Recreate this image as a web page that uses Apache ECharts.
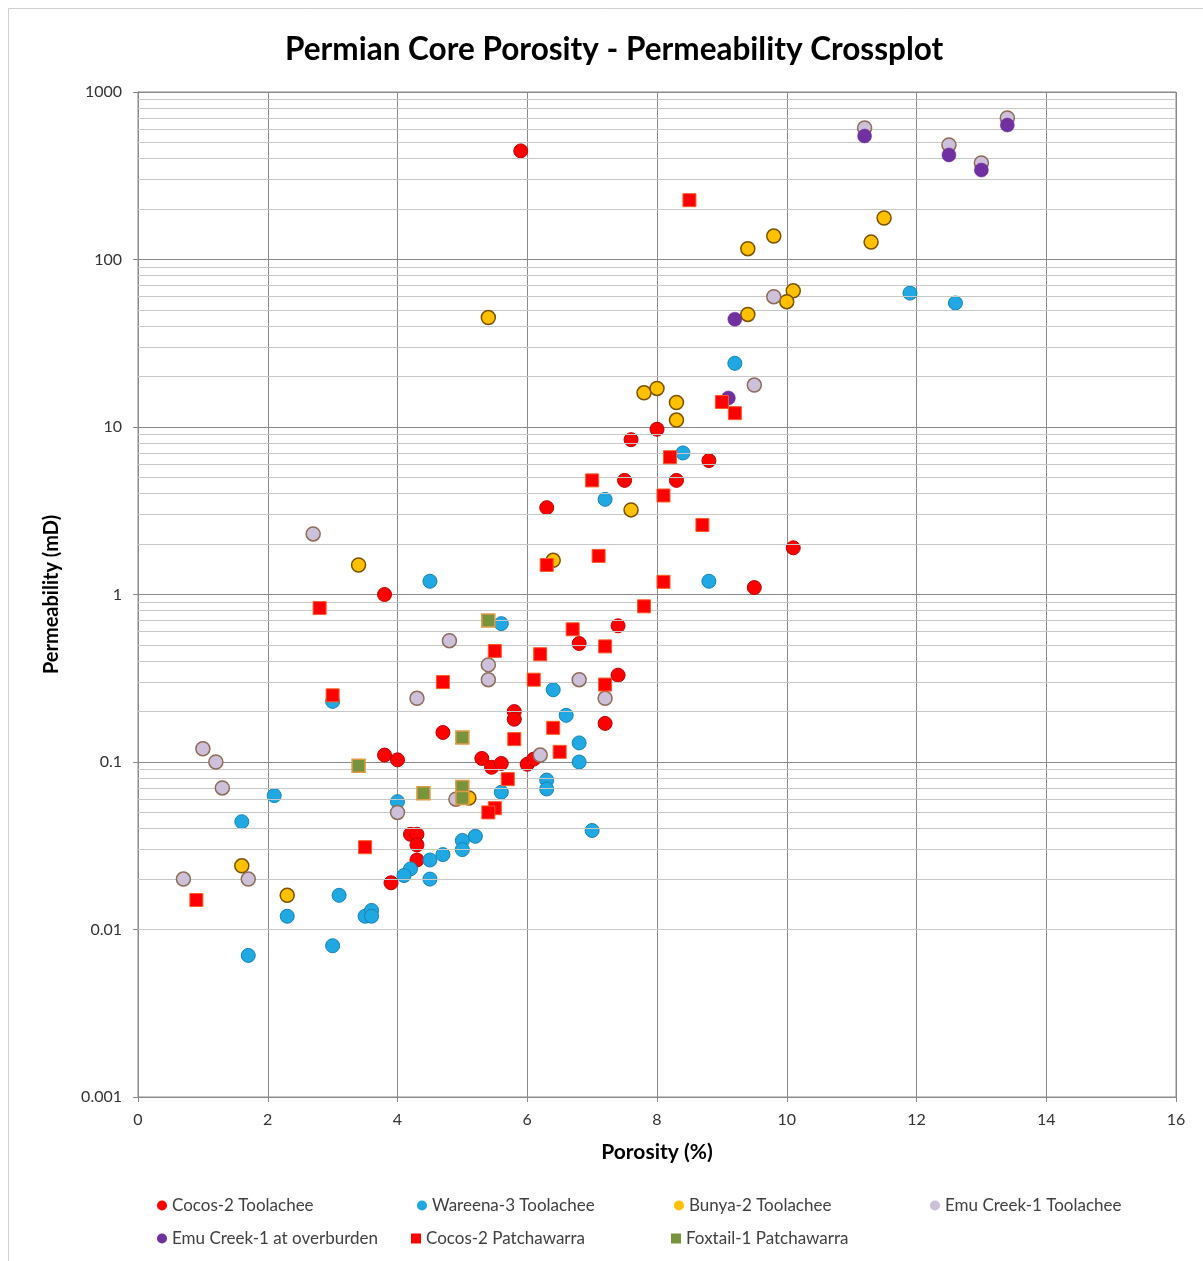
<!DOCTYPE html>
<html>
<head>
<meta charset="utf-8">
<script src="https://cdn.jsdelivr.net/npm/echarts@6/dist/echarts.min.js"></script>
<style>
html,body{margin:0;padding:0;background:#fff;}
#chart{width:1203px;height:1261px;}
</style>
</head>
<body>
<div id="chart"></div>
<script>
// ---- data (porosity %, permeability mD) ----
const cocos2Toolachee = [
  [5.9,445],[3.8,1.0],[6.3,3.3],[7.6,8.4],[8.0,9.7],[7.5,4.8],[8.3,4.8],[8.8,6.3],[10.1,1.9],[9.5,1.1],
  [7.4,0.65],[6.8,0.51],[7.4,0.33],[7.2,0.17],[5.8,0.2],[5.8,0.18],[4.7,0.15],[3.8,0.11],[4.0,0.103],
  [5.3,0.105],[5.45,0.093],[5.6,0.098],[6.0,0.097],[6.1,0.104],[4.2,0.037],[4.3,0.037],[4.3,0.032],
  [4.3,0.026],[3.9,0.019]
];
const wareena3Toolachee = [
  [11.9,63],[12.6,55],[9.2,24],[8.4,7.0],[7.2,3.7],[8.8,1.2],[4.5,1.2],[5.6,0.67],[6.4,0.27],[6.6,0.19],
  [6.8,0.13],[6.8,0.1],[6.3,0.078],[6.3,0.069],[5.6,0.066],[7.0,0.039],[3.0,0.23],[2.1,0.063],[1.6,0.044],
  [4.0,0.058],[5.2,0.036],[5.0,0.034],[5.0,0.030],[4.7,0.028],[4.5,0.026],[4.2,0.023],[4.1,0.021],
  [4.5,0.020],[3.1,0.016],[2.3,0.012],[3.5,0.012],[3.6,0.013],[3.6,0.012],[3.0,0.008],[1.7,0.007]
];
const bunya2Toolachee = [
  [11.5,177],[11.3,127],[9.4,116],[9.8,138],[10.1,65],[10.0,56],[9.4,47],[5.4,45],[7.8,16],[8.0,17],
  [8.3,14],[8.3,11],[7.6,3.2],[6.4,1.6],[3.4,1.5],[1.6,0.024],[2.3,0.016],[5.1,0.061]
];
const emuCreekToolachee = [
  [11.2,610],[12.5,483],[13.0,377],[13.4,700],[9.8,60],[9.5,17.8],[2.7,2.3],[4.8,0.53],[5.4,0.38],
  [5.4,0.31],[4.3,0.24],[6.8,0.31],[7.2,0.24],[6.2,0.11],[1.0,0.12],[1.2,0.1],[1.3,0.07],[0.7,0.02],
  [1.7,0.02],[4.0,0.05],[4.9,0.06]
];
const emuCreekOverburden = [
  [11.2,546],[12.5,421],[13.0,342],[13.4,635],[9.2,44],[9.1,14.9]
];
const cocos2Patchawarra = [
  [8.5,226],[9.0,14.1],[9.2,12.1],[8.2,6.6],[7.0,4.8],[8.1,3.9],[8.7,2.6],[7.1,1.7],[6.3,1.5],[8.1,1.19],
  [7.8,0.85],[2.8,0.83],[6.7,0.62],[7.2,0.49],[6.2,0.44],[5.5,0.46],[4.7,0.30],[6.1,0.31],[7.2,0.29],
  [3.0,0.25],[6.4,0.16],[5.8,0.137],[6.5,0.115],[5.7,0.079],[5.5,0.053],[5.4,0.05],[3.5,0.031],[0.9,0.015]
];
const foxtail1Patchawarra = [
  [5.4,0.70],[5.0,0.14],[3.4,0.095],[4.4,0.065],[5.0,0.071],[5.0,0.061]
];
const seriesNames = [
  'Cocos-2 Toolachee','Wareena-3 Toolachee','Bunya-2 Toolachee','Emu Creek-1 Toolachee',
  'Emu Creek-1 at overburden','Cocos-2 Patchawarra','Foxtail-1 Patchawarra'
];
const xTicks = [0,2,4,6,8,10,12,14,16];
const yDecades = [0.001,0.01,0.1,1,10,100,1000];
const minorMultipliers = [2,3,4,5,6,7,8,9];

// ---- build ----
const minorLines = [];
yDecades.slice(0,-1).forEach(d => minorMultipliers.forEach(m => minorLines.push({yAxis: +(d*m).toPrecision(6)})));

const styles = [
  {symbol:'circle', size:14, color:'#FF0000', border:'#C00000', bw:1},
  {symbol:'circle', size:14, color:'#1FA8E2', border:'#1784B5', bw:1},
  {symbol:'circle', size:14, color:'#FFC000', border:'#7A5200', bw:1.5},
  {symbol:'circle', size:14, color:'#CCC0DA', border:'#8E6C58', bw:1.5},
  {symbol:'circle', size:14, color:'#7030A0', border:'#6A2D98', bw:0.5},
  {symbol:'rect',   size:13, color:'#FF0000', border:'#FF5A1F', bw:1},
  {symbol:'rect',   size:13, color:'#77933C', border:'#E39A46', bw:1.5}
];
const datasets = [cocos2Toolachee, wareena3Toolachee, bunya2Toolachee, emuCreekToolachee,
                  emuCreekOverburden, cocos2Patchawarra, foxtail1Patchawarra];

const series = [{
  type:'scatter', name:'_minor', data:[], silent:true, animation:false, z:1,
  markLine:{silent:true, animation:false, symbol:['none','none'], label:{show:false},
    lineStyle:{color:'#c8c8c8', width:1, type:'solid'}, emphasis:{disabled:true}, data:minorLines}
}];
datasets.forEach((d,i) => {
  const s = styles[i];
  series.push({
    type:'scatter', name:seriesNames[i], data:d, symbol:s.symbol, symbolSize:s.size, z:3+i,
    itemStyle:{color:s.color, borderColor:s.border, borderWidth:s.bw, opacity:1},
    animation:false
  });
});

const legendPos = [[157,1197],[417,1197],[674,1197],[930,1197],[157,1230],[411,1230],[671,1230]];
const legends = seriesNames.map((n,i) => ({
  data:[{name:n, icon: styles[i].symbol === 'rect' ? 'rect' : 'circle'}],
  left:legendPos[i][0], top:legendPos[i][1], padding:0, itemWidth:10, itemHeight:10, itemGap:5,
  selectedMode:false,
  itemStyle:{borderWidth:0},
  textStyle:{fontFamily:'Lato', fontSize:17, color:'#404040'}
}));

const fmt = v => String(Number(Number(v).toPrecision(6)));

const option = {
  backgroundColor:'#ffffff',
  animation:false,
  title:{text:'Permian Core Porosity - Permeability Crossplot', left:280, top:29,
    textStyle:{fontFamily:'Lato', fontWeight:'bold', fontSize:31.5, color:'#000'}},
  legend:legends,
  grid:{left:138, right:27, top:92, bottom:164, show:true, borderColor:'#8a8a8a', borderWidth:1},
  xAxis:{type:'value', min:xTicks[0], max:xTicks[xTicks.length-1], interval:2,
    name:'Porosity (%)', nameLocation:'middle', nameGap:45,
    nameTextStyle:{fontFamily:'Lato', fontWeight:'bold', fontSize:21, color:'#000'},
    axisLine:{show:true, lineStyle:{color:'#8a8a8a'}},
    axisTick:{show:true, length:5, lineStyle:{color:'#8a8a8a'}},
    axisLabel:{margin:15, fontFamily:'Lato', fontSize:16, color:'#333'},
    splitLine:{show:true, lineStyle:{color:'#8a8a8a', width:1}}},
  yAxis:{type:'log', logBase:10, min:yDecades[0], max:yDecades[yDecades.length-1],
    name:'Permeability (mD)', nameLocation:'middle', nameGap:76,
    nameTextStyle:{fontFamily:'Lato', fontWeight:'bold', fontSize:20, color:'#000'},
    axisLine:{show:true, lineStyle:{color:'#8a8a8a'}},
    axisTick:{show:true, length:5, lineStyle:{color:'#8a8a8a'}},
    axisLabel:{margin:16, fontFamily:'Lato', fontSize:16, color:'#333', formatter:fmt},
    splitLine:{show:true, lineStyle:{color:'#8a8a8a', width:1}}},
  graphic:[{type:'rect', shape:{x:8.5, y:8.5, width:1200, height:1260}, silent:true,
    style:{fill:'none', stroke:'#d0d0d0', lineWidth:1}}],
  series:series
};

const chart = echarts.init(document.getElementById('chart'), null, {renderer:'canvas'});
chart.setOption(option);
</script>
</body>
</html>
